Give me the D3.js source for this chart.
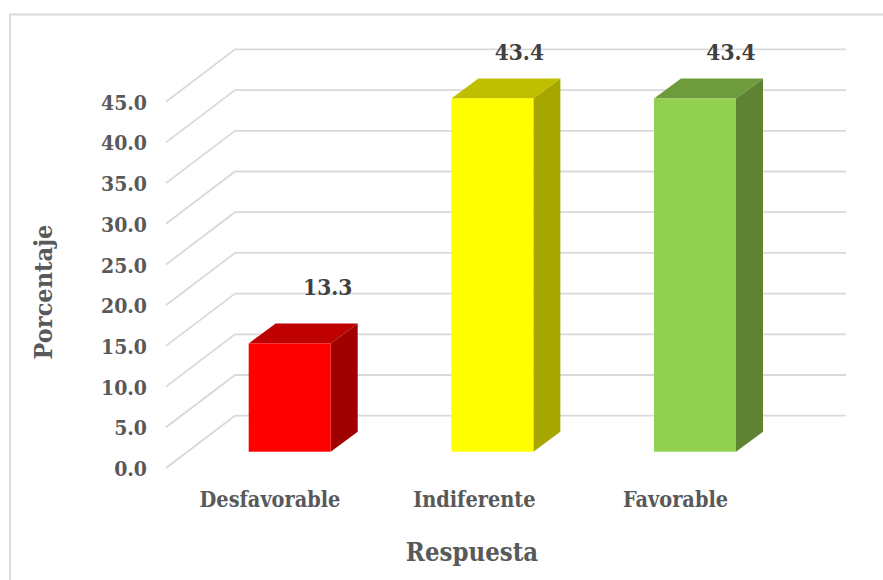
<!DOCTYPE html>
<html><head><meta charset="utf-8">
<script src="https://cdn.jsdelivr.net/npm/d3@7"></script>
<style>html,body{margin:0;padding:0;background:#fff}svg{display:block}text{font-family:"DejaVu Serif Condensed","DejaVu Serif",serif;font-stretch:condensed;font-weight:700;fill:#595959}</style>
</head><body><svg id="c" width="883" height="580"></svg>
<script>
const categories = ["Desfavorable","Indiferente","Favorable"];
const values = [13.3,43.4,43.4];
const valueLabels = ["13.3","43.4","43.4"];
const ticks = [0,5,10,15,20,25,30,35,40,45];
const frontColors = ["#ff0000","#ffff00","#92d050"];
const topColors = ["#bf0000","#bfbf00","#6e9c3c"];
const sideColors = ["#a00000","#a6a600","#5f8233"];

const svg = d3.select("#c");
svg.append("defs").append("filter").attr("id","soft").append("feGaussianBlur").attr("stdDeviation",0.45);
svg.append("rect").attr("x",10).attr("y",14.5).attr("width",880).attr("height",570)
  .attr("fill","#fff").attr("stroke","#d9d9d9").attr("stroke-width",2);

const y = d3.scaleLinear().domain([0,45]).range([468,101.7]);
const x = d3.scalePoint().domain(categories).range([289.7,695]);
const depthX = 69, depthY = 52.3, barW = 82, barDx = 27, barDy = 20, barBase = 16.3;
const gridRight = 846;

const g = svg.append("g").attr("fill","none").attr("stroke","#d9d9d9").attr("stroke-width",1.8).attr("filter","url(#soft)");
g.selectAll("path").data(ticks).join("path")
  .attr("d",t=>`M166,${y(t)}L${166+depthX},${y(t)-depthY}H${gridRight}`);

svg.append("g").selectAll("text").data(ticks).join("text")
  .attr("x",147).attr("y",t=>y(t)+8).attr("text-anchor","end")
  .attr("font-size",21).text(t=>d3.format(".1f")(t));

const bars = svg.append("g").selectAll("g").data(categories).join("g");
const x0 = (c)=>x(c)-barW/2;
const base = y(0)-barBase;
const topY = (i)=>base-(y(0)-y(values[i]));
bars.append("path").attr("fill",(c,i)=>sideColors[i])
  .attr("d",(c,i)=>`M${x0(c)+barW},${base}V${topY(i)}l${barDx},${-barDy}V${base-barDy}Z`);
bars.append("path").attr("fill",(c,i)=>topColors[i])
  .attr("d",(c,i)=>`M${x0(c)},${topY(i)}h${barW}l${barDx},${-barDy}h${-barW}Z`);
bars.append("rect").attr("fill",(c,i)=>frontColors[i])
  .attr("x",c=>x0(c)).attr("width",barW).attr("y",(c,i)=>topY(i)).attr("height",(c,i)=>base-topY(i));

const labelDx = [38,27,36], labelDy = [48,38,38];
bars.append("text").attr("x",(c,i)=>x(c)+labelDx[i]).attr("y",(c,i)=>topY(i)-labelDy[i])
  .attr("text-anchor","middle").attr("font-size",22.5).style("fill","#404040").text((c,i)=>valueLabels[i]);
const catDx = [-19.7,-18,-19.5];
svg.append("g").selectAll("text").data(categories).join("text")
  .attr("x",c=>x(c)+catDx[categories.indexOf(c)]).attr("y",507).attr("text-anchor","middle")
  .attr("font-size",21.5).text(c=>c);
svg.append("text").attr("x",472).attr("y",561).attr("text-anchor","middle").attr("font-size",25.5).text("Respuesta");
svg.append("text").attr("transform","translate(52,292) rotate(-90)").attr("text-anchor","middle").attr("font-size",25).text("Porcentaje");
</script></body></html>
